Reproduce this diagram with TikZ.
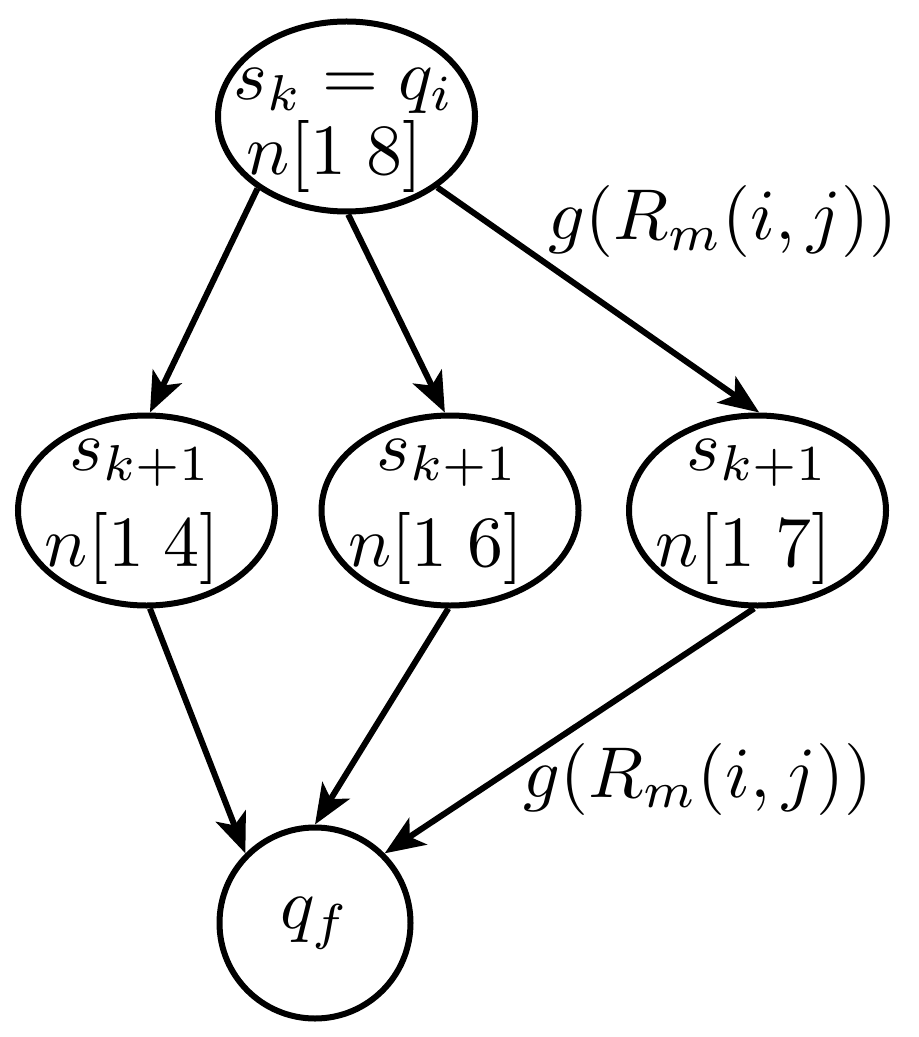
\documentclass[tikz,border=0pt]{standalone}
\usetikzlibrary{arrows.meta,shapes.geometric}
\newcommand{\Tx}[1]{\scalebox{3.6}{$#1$}}
\begin{document}
\begin{tikzpicture}[x=0.5pt,y=-0.5pt,
  st/.style={draw,line width=3pt,ellipse,minimum width=128.5pt,minimum height=95pt,inner sep=0pt},
  fin/.style={draw,line width=3pt,circle,minimum size=95.5pt,inner sep=0pt},
  edge/.style={line width=3pt,-{Stealth[length=20pt,width=16pt,inset=5pt]}},
  txt/.style={anchor=base,inner sep=0pt}]
\useasboundingbox (0,0) rectangle (919,1037);
% states
\node[st] (top) at (346.5,116.5) {};
\node[st] (l) at (146.5,510.5) {};
\node[st] (m) at (450,510.5) {};
\node[st] (r) at (757.5,510.5) {};
\node[fin] (q) at (315,923) {\Tx{q_f}};
% texts
\node[txt] (t1) at (344,100) {\Tx{s_k = q_i}};
\node[txt] (t2) at (334.5,175) {\Tx{n[1\;8]}};
\node[txt] (l1) at (141,470) {\Tx{s_{k+1}}};
\node[txt] (l2) at (132.5,566) {\Tx{n[1\;4]}};
\node[txt] (m1) at (448,470) {\Tx{s_{k+1}}};
\node[txt] (m2) at (436,566) {\Tx{n[1\;6]}};
\node[txt] (r1) at (757.5,470) {\Tx{s_{k+1}}};
\node[txt] (r2) at (743.5,566) {\Tx{n[1\;7]}};
% edges
\draw[edge] (top.219.5) -- (l.88);
\draw[edge] (top.271) -- (m.93);
\draw[edge] (top.322.6) -- (r.89);
\draw[edge] (l.272) -- (q.135);
\draw[edge] (m.269) -- (q.90);
\draw[edge] (r.268.5) -- (q.45);
% labels
\node[txt] (g1) at (723,240) {\Tx{g(R_m(i,j))}};
\node[txt] (g2) at (698,797) {\Tx{g(R_m(i,j))}};
\end{tikzpicture}
\end{document}
